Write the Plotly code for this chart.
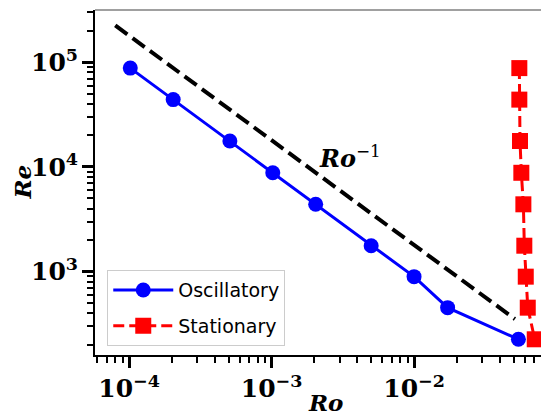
import plotly.graph_objects as go
import math

# Data
osc_ro = [1.02e-4, 2.04e-4, 5.1e-4, 1.02e-3, 2.04e-3, 5.0e-3, 1.0e-2, 1.72e-2, 5.4e-2]
osc_re = [8.8e4, 4.4e4, 1.77e4, 8.8e3, 4.4e3, 1.77e3, 8.96e2, 4.53e2, 2.26e2]

stat_ro = [0.0548, 0.0548, 0.0554, 0.0566, 0.0585, 0.0594, 0.0608, 0.0628, 0.0703]
stat_re = [8.8e4, 4.4e4, 1.77e4, 8.8e3, 4.4e3, 1.77e3, 8.96e2, 4.53e2, 2.26e2]

scale_ro = [8.0e-5, 5.1e-2]
scale_coef = 18.0
scale_re = [scale_coef / r for r in scale_ro]

serif = "DejaVu Serif, Liberation Serif, serif"
sans = "DejaVu Sans, sans-serif"

fig = go.Figure()
fig.add_trace(go.Scatter(
    x=scale_ro, y=scale_re, mode="lines", showlegend=False,
    line=dict(color="black", width=4, dash="15px,6.5px"), hoverinfo="skip"))
fig.add_trace(go.Scatter(
    x=osc_ro, y=osc_re, mode="lines+markers", name="Oscillatory",
    legendgroup="a",
    line=dict(color="#0000ff", width=3),
    marker=dict(symbol="circle", size=15, color="#0000ff")))
fig.add_trace(go.Scatter(
    x=stat_ro, y=stat_re, mode="lines+markers", name="Stationary",
    legendgroup="b",
    line=dict(color="#ff0000", width=3, dash="11px,5px"),
    marker=dict(symbol="square", size=16, color="#ff0000")))

axis_common = dict(
    type="log", showgrid=False, zeroline=False, automargin=False,
    showline=True, linecolor="black", linewidth=2,
    ticks="outside", ticklen=11, tickwidth=3, tickcolor="black",
    dtick=1, exponentformat="power",
    tickfont=dict(family=serif, size=20, color="black", weight="bold"),
    minor=dict(ticks="outside", ticklen=6, tickwidth=1.5, tickcolor="black",
               dtick="D1", showgrid=False),
)

fig.update_xaxes(**axis_common, range=[-4.239, -1.053])
fig.update_yaxes(**axis_common, range=[2.204, 5.4995])

title_font = dict(family=serif, size=23, color="black")
fig.add_annotation(x=0.5 + 3 / 454, y=-47 / 345, xref="paper", yref="paper",
                   text="<b><i>Ro</i></b>", showarrow=False, borderpad=0,
                   xanchor="center", yanchor="middle", font=title_font)
fig.add_annotation(x=-73 / 454, y=0.5, xref="paper", yref="paper",
                   text="<b><i>Re</i></b>", showarrow=False, textangle=-90,
                   borderpad=0,
                   xanchor="center", yanchor="middle", font=title_font)

fig.add_annotation(
    x=math.log10(2.1e-3), y=math.log10(1.24e4), xref="x", yref="y",
    text="<b><i>Ro</i></b><sup>−1</sup>", showarrow=False,
    xanchor="left", yanchor="middle",
    font=dict(family=serif, size=24, color="black"))

fig.add_shape(type="line", xref="paper", yref="paper", x0=0, x1=1, y0=1, y1=1,
              line=dict(color="#808080", width=1.5))

# the page body adds an 8px offset, so the figure is sized to fill the rest
fig.update_layout(
    width=541, height=411,
    margin=dict(l=87, r=0, t=2, b=64, autoexpand=False),
    plot_bgcolor="white", paper_bgcolor="white",
    legend=dict(
        x=0.027, y=0.246, xanchor="left", yanchor="top",
        bgcolor="rgba(255,255,255,0.8)", bordercolor="#cccccc", borderwidth=1,
        font=dict(family=sans, size=19, color="black"),
        tracegroupgap=8, itemwidth=60,
    ),
)

fig.write_html("out.html")
